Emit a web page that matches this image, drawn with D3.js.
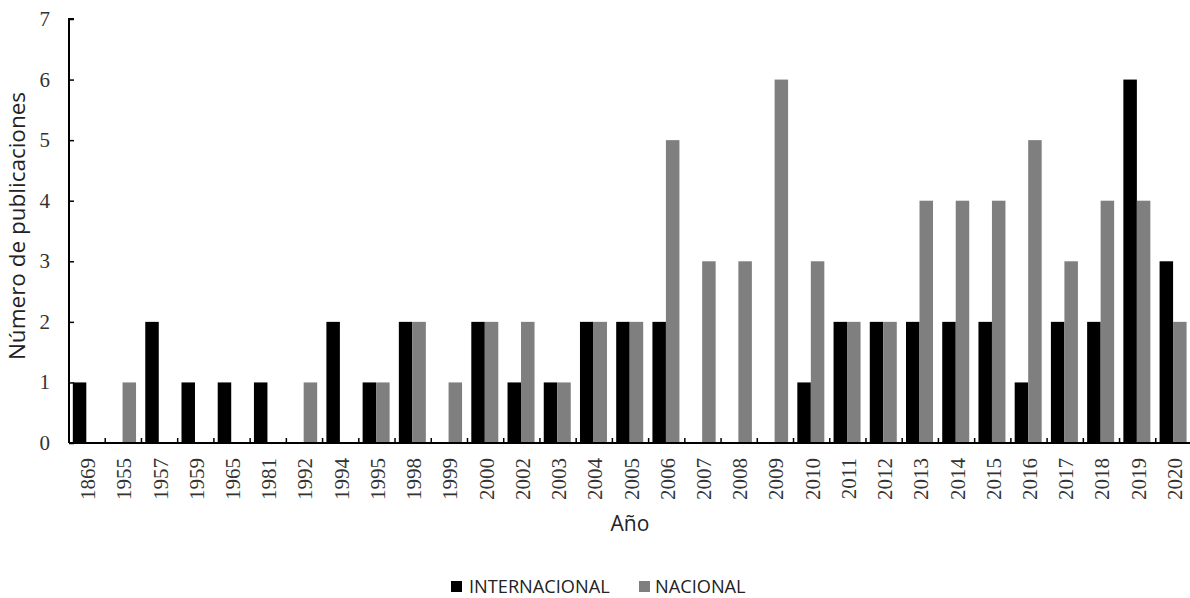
<!DOCTYPE html>
<html><head><meta charset="utf-8">
<script src="https://cdn.jsdelivr.net/npm/d3@7"></script>
<style>body{margin:0;background:#fff}svg{display:block}</style>
</head><body>
<svg id="c" width="1190" height="598"></svg>
<script>
const years = ["1869","1955","1957","1959","1965","1981","1992","1994","1995","1998","1999","2000","2002","2003","2004","2005","2006","2007","2008","2009","2010","2011","2012","2013","2014","2015","2016","2017","2018","2019","2020"];
const internacional = [1,0,2,1,1,1,0,2,1,2,0,2,1,1,2,2,2,0,0,0,1,2,2,2,2,2,1,2,2,6,3];
const nacional = [0,1,0,0,0,0,1,0,1,2,1,2,2,1,2,2,5,3,3,6,3,2,2,4,4,4,5,3,4,4,2];
const yTicks = [0,1,2,3,4,5,6,7];
const seriesNames = ["INTERNACIONAL","NACIONAL"];
const colors = ["#000000","#7f7f7f"];

(function(){
const svg = d3.select("#c");
const mLeft = 69, mRight = 1192, mTop = 19, mBottom = 443;
const x = d3.scaleBand().domain(years).range([mLeft, mRight]).paddingInner(0).paddingOuter(0);
const inner = d3.scaleBand().domain([0,1]).range([0, 27]);
const y = d3.scaleLinear().domain([0,7]).range([mBottom, mTop]);
const serif = "'Liberation Serif','DejaVu Serif',serif";
const sans = "'Open Sans','Noto Sans',sans-serif";

const data = [internacional, nacional];
data.forEach((vals, si) => {
  svg.append("g").selectAll("rect").data(years).join("rect")
    .attr("x", d => x(d) + (x.bandwidth() - 27) / 2 - 0.8 + inner(si))
    .attr("width", inner.bandwidth())
    .attr("y", (d, i) => y(vals[i]))
    .attr("height", (d, i) => y(0) - y(vals[i]))
    .attr("fill", colors[si]);
});

// y axis
const ya = svg.append("g").attr("transform", `translate(${mLeft},0)`)
  .call(d3.axisRight(y).tickValues(yTicks).tickSize(5).tickFormat(""));
ya.select(".domain").attr("stroke", "#000").attr("stroke-width", 2).attr("d", `M5,${mTop}H0V${mBottom}`);
ya.selectAll(".tick line").attr("stroke", "#000").attr("stroke-width", 1.5);
svg.append("g").selectAll("text").data(yTicks).join("text")
  .attr("x", 50).attr("y", d => y(d) + 7).attr("text-anchor", "end")
  .attr("font-family", serif).attr("font-size", 21).attr("fill", "#333").text(d => d);

// x axis
const boundaries = years.map(d => x(d)).concat([mRight]);
svg.append("line").attr("x1", mLeft).attr("x2", 1190).attr("y1", mBottom).attr("y2", mBottom)
  .attr("stroke", "#000").attr("stroke-width", 2);
svg.append("g").selectAll("line").data(boundaries.slice(1)).join("line")
  .attr("x1", d => d).attr("x2", d => d).attr("y1", mBottom).attr("y2", mBottom - 5)
  .attr("stroke", "#000").attr("stroke-width", 1.5);
svg.append("g").selectAll("text").data(years).join("text")
  .attr("transform", d => `translate(${x(d) + x.bandwidth() / 2 + 8},${458}) rotate(-90)`)
  .attr("text-anchor", "end")
  .attr("font-family", serif).attr("font-size", 21).attr("fill", "#333").text(d => d);

// titles
svg.append("text").attr("transform", "translate(25,226) rotate(-90)").attr("text-anchor", "middle")
  .attr("font-family", sans).attr("font-size", 22.5).attr("fill", "#222").text("Número de publicaciones");
svg.append("text").attr("x", 630).attr("y", 531).attr("text-anchor", "middle")
  .attr("font-family", sans).attr("font-size", 21).attr("fill", "#222").text("Año");

// legend
const lg = svg.append("g");
const legendPos = [[451, 469], [639, 655]];
seriesNames.forEach((n, i) => {
  lg.append("rect").attr("x", legendPos[i][0]).attr("y", 581).attr("width", 11).attr("height", 11).attr("fill", colors[i]);
  lg.append("text").attr("x", legendPos[i][1]).attr("y", 593).attr("font-family", sans)
    .attr("font-size", 18.2).attr("fill", "#222").text(n);
});
})();
</script>
</body></html>
